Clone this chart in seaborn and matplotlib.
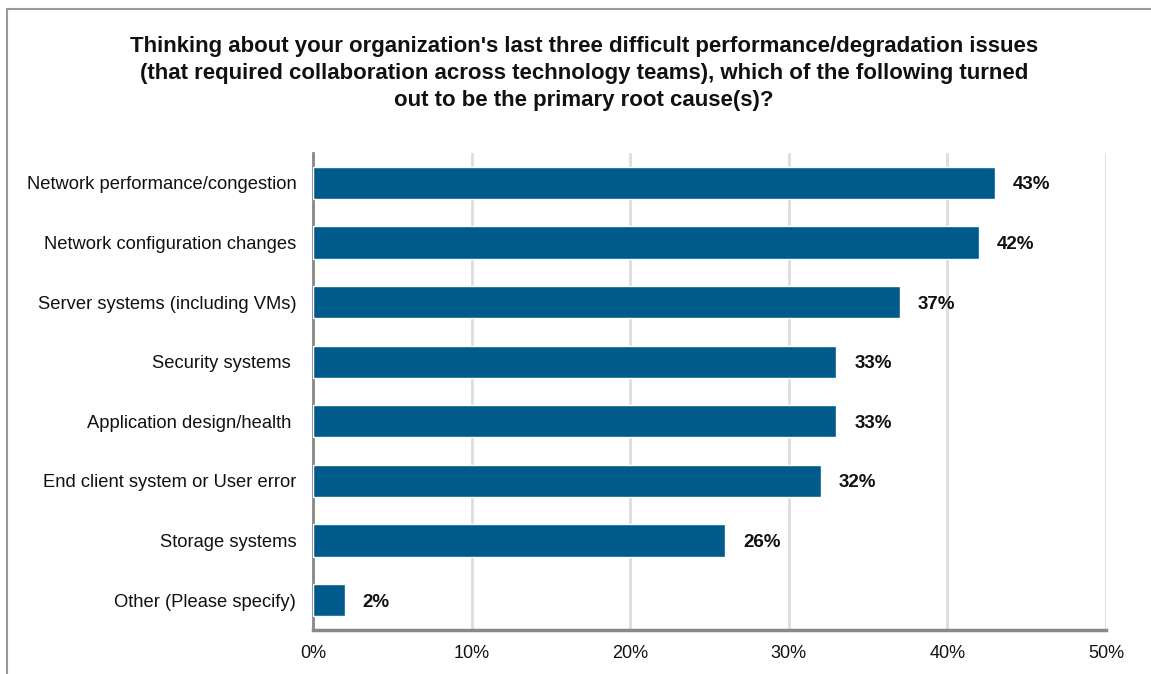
import matplotlib
matplotlib.use('Agg')
import matplotlib.pyplot as plt
from matplotlib.lines import Line2D
import seaborn as sns
import pandas as pd

causes = ['Network performance/congestion', 'Network configuration changes',
          'Server systems (including VMs)', 'Security systems ',
          'Application design/health ', 'End client system or User error',
          'Storage systems', 'Other (Please specify)']
shares = [43, 42, 37, 33, 33, 32, 26, 2]
xticks = [0, 10, 20, 30, 40, 50]
title = ("Thinking about your organization's last three difficult performance/degradation issues\n"
         "(that required collaboration across technology teams), which of the following turned\n"
         "out to be the primary root cause(s)?")

df = pd.DataFrame({'cause': causes, 'share': shares})

sns.set_theme(style='white')
plt.rcParams['font.family'] = ['Liberation Sans', 'DejaVu Sans']

fig = plt.figure(figsize=(11.51, 6.74), dpi=100)
ax = fig.add_axes([313/1151, 1-630/674, (1106-313)/1151, (630-153)/674])

sns.barplot(data=df, x='share', y='cause', color='#005A8C', width=0.54,
            saturation=1, ax=ax, zorder=3)

ax.set_xlim(0, 50)
ax.set_ylim(7.5, -0.5)
ax.set_xticks(xticks)
ax.set_xticklabels([f'{t}%' for t in xticks], fontsize=13, color='#111111')
ax.tick_params(axis='x', length=0, pad=11)
ax.tick_params(axis='y', length=0, pad=12, labelsize=13.2, labelcolor='#111111')
ax.set_xlabel('')
ax.set_ylabel('')
ax.grid(axis='x', color='#dddddd', linewidth=2, zorder=0)
for s in ['top', 'right']:
    ax.spines[s].set_visible(False)
ax.spines['left'].set_color('#888888')
ax.spines['left'].set_linewidth(2)
ax.spines['bottom'].set_color('#888888')
ax.spines['bottom'].set_linewidth(2.5)

for i, v in enumerate(shares):
    ax.annotate(f'{v}%', (v, i), xytext=(13, 0), textcoords='offset points',
                ha='left', va='center_baseline', fontsize=13.5, fontweight='bold',
                color='#111111')

fig.text(584/1151, 1-36/674, title, ha='center', va='top', fontsize=16,
         fontweight='bold', color='#111111', linespacing=1.36)

# outer frame, cut off at right and bottom
fig.add_artist(Line2D([7/1151, 7/1151], [0, 1-9/674], transform=fig.transFigure,
                      color='#999999', linewidth=1.5))
fig.add_artist(Line2D([7/1151, 1], [1-9/674, 1-9/674], transform=fig.transFigure,
                      color='#999999', linewidth=1.5))

fig.savefig('out.png', dpi=100)
